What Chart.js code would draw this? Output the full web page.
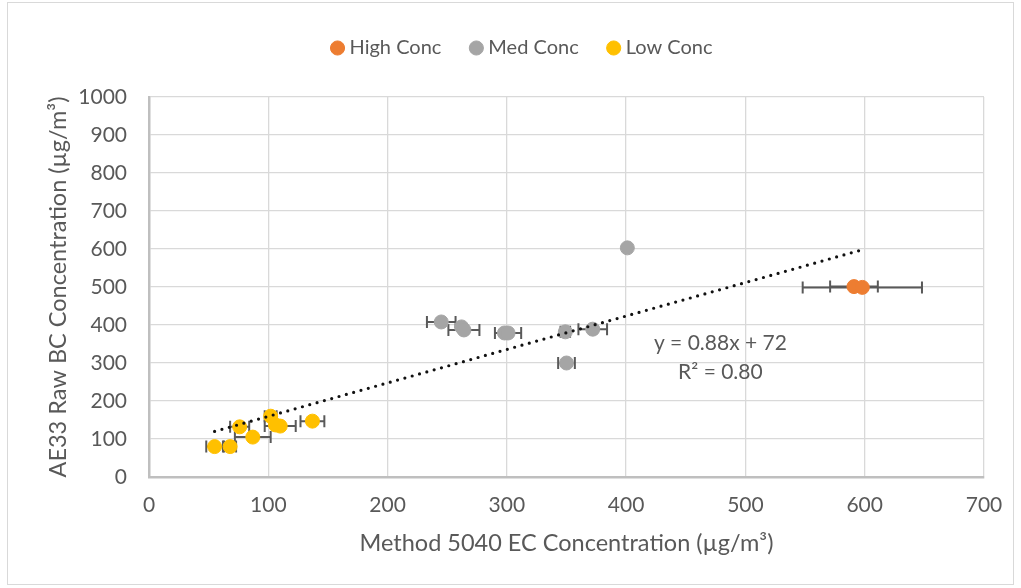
<!DOCTYPE html>
<html>
<head>
<meta charset="utf-8">
<script src="https://cdn.jsdelivr.net/npm/chart.js@4.4.1/dist/chart.umd.min.js"></script>
<style>
  body { margin: 0; background: #fff; }
  #wrap { position: relative; width: 1021px; height: 588px; }
  #frame { position: absolute; left: 7px; top: 2px; width: 1005px; height: 581px; border: 1px solid #d9d9d9; pointer-events: none; }
  canvas { position: absolute; left: 0; top: 0; }
</style>
</head>
<body>
<div id="wrap">
  <canvas id="myChart" width="1021" height="588"></canvas>
  <div id="frame"></div>
</div>
<script>
// valores
const highX = [591, 598]
const highY = [501, 499]
const highErr = [20, 50]

const medX = [245, 262, 264, 298, 301, 349, 350, 372, 401]
const medY = [408, 395, 387, 379, 379, 382, 300, 389, 603]
const medErr = [12, 0, 13, 0, 11, 4, 7, 12, 0]

const lowX = [55, 68, 76, 87, 102, 106, 110, 137]
const lowY = [80, 80, 132, 105, 160, 137, 134, 147]
const lowErr = [7, 5, 8, 15, 5, 0, 13, 10]

const trendX = [55, 598]
const trendY = [120, 598]

const xTicks = [0, 100, 200, 300, 400, 500, 600, 700]
const yTicks = [0, 100, 200, 300, 400, 500, 600, 700, 800, 900, 1000]

const textColor = '#595959'
const fuente = 'Lato, "Liberation Sans", sans-serif'

const puntos = (xs, ys) => xs.map((v, i) => ({x: v, y: ys[i]}))

const errorBars = {
    id: 'errorBars',
    beforeDatasetsDraw(chart) {
        const {ctx, scales: {x, y}} = chart
        ctx.save()
        ctx.strokeStyle = '#595959'
        ctx.lineWidth = 2
        chart.data.datasets.forEach(ds => {
            if (!ds.xErr) return
            ds.data.forEach((p, i) => {
                const e = ds.xErr[i]
                if (!e) return
                const x0 = x.getPixelForValue(p.x - e)
                const x1 = x.getPixelForValue(p.x + e)
                const py = y.getPixelForValue(p.y)
                ctx.beginPath()
                ctx.moveTo(x0, py); ctx.lineTo(x1, py)
                ctx.moveTo(x0, py - 6); ctx.lineTo(x0, py + 6)
                ctx.moveTo(x1, py - 6); ctx.lineTo(x1, py + 6)
                ctx.stroke()
            })
        })
        ctx.restore()
    }
}

const ecuacion = {
    id: 'ecuacion',
    afterDraw(chart) {
        const {ctx, scales: {x, y}} = chart
        const cx = x.getPixelForValue(479)
        ctx.save()
        ctx.fillStyle = textColor
        ctx.font = '21px ' + fuente
        ctx.textAlign = 'center'
        ctx.textBaseline = 'middle'
        ctx.fillText('y = 0.88x + 72', cx, y.getPixelForValue(353))
        ctx.fillText('R² = 0.80', cx, y.getPixelForValue(277))
        ctx.restore()
    }
}

// leyenda: alto fijo y corrida a la derecha
const ajusteLeyenda = {
    id: 'ajusteLeyenda',
    beforeInit(chart) {
        const fit = chart.legend.fit
        chart.legend.fit = function () {
            fit.call(this)
            this.height = 92
        }
    },
    afterLayout(chart) {
        chart.legend.left += 32
        chart.legend.right += 32
    }
}

const ctx = document.getElementById('myChart').getContext('2d')
const myChart = new Chart(ctx, {
    type: 'scatter',
    data: {
        datasets: [
            {
                label: 'trend',
                type: 'line',
                data: puntos(trendX, trendY),
                borderColor: '#111',
                borderWidth: 3.2,
                borderDash: [0, 7.6],
                borderCapStyle: 'round',
                pointRadius: 0,
                fill: false,
                order: 0
            },
            {
                label: 'High Conc',
                data: puntos(highX, highY),
                xErr: highErr,
                backgroundColor: '#ED7D31',
                borderColor: '#ED7D31',
                pointRadius: 7,
                borderWidth: 1,
                order: 1
            },
            {
                label: 'Med Conc',
                data: puntos(medX, medY),
                xErr: medErr,
                backgroundColor: '#A5A5A5',
                borderColor: '#A5A5A5',
                pointRadius: 7,
                borderWidth: 1,
                order: 1
            },
            {
                label: 'Low Conc',
                data: puntos(lowX, lowY),
                xErr: lowErr,
                backgroundColor: '#FFC000',
                borderColor: '#FFC000',
                pointRadius: 7,
                borderWidth: 1,
                order: 1
            }
        ]
    },
    options: {
        responsive: false,
        animation: false,
        devicePixelRatio: 1,
        layout: { padding: { top: 5, right: 37, left: 0, bottom: 0 } },
        plugins: {
            tooltip: { enabled: false },
            legend: {
                position: 'top',
                labels: {
                    usePointStyle: true,
                    pointStyle: 'circle',
                    boxWidth: 4,
                    boxHeight: 10,
                    padding: 33,
                    color: textColor,
                    font: { family: fuente, size: 20 },
                    filter: item => item.text !== 'trend'
                }
            }
        },
        scales: {
            x: {
                type: 'linear',
                min: 0,
                max: 700,
                afterBuildTicks: s => { s.ticks = xTicks.map(v => ({value: v})) },
                afterFit: s => { s.height = 111 },
                grid: { color: '#d9d9d9', lineWidth: 1.3, drawTicks: false },
                border: { color: '#bfbfbf', width: 2.5 },
                ticks: { color: textColor, padding: 16, callback: v => String(v), font: { family: fuente, size: 21 } },
                title: {
                    display: true,
                    text: 'Method 5040 EC Concentration (µg/m³)',
                    color: textColor,
                    font: { family: fuente, size: 23.5 },
                    padding: { top: 0, bottom: 30 }
                }
            },
            y: {
                type: 'linear',
                min: 0,
                max: 1000,
                afterBuildTicks: s => { s.ticks = yTicks.map(v => ({value: v})) },
                afterFit: s => { s.width = 149 },
                grid: { color: '#d9d9d9', lineWidth: 1.3, drawTicks: false },
                border: { color: '#bfbfbf', width: 2.5 },
                ticks: { color: textColor, padding: 22, callback: v => String(v), font: { family: fuente, size: 21 } },
                title: {
                    display: true,
                    text: 'AE33 Raw BC Concentration (µg/m³)',
                    color: textColor,
                    font: { family: fuente, size: 23.5 },
                    padding: { top: 44, bottom: 0 }
                }
            }
        }
    },
    plugins: [errorBars, ecuacion, ajusteLeyenda]
})
</script>
</body>
</html>
